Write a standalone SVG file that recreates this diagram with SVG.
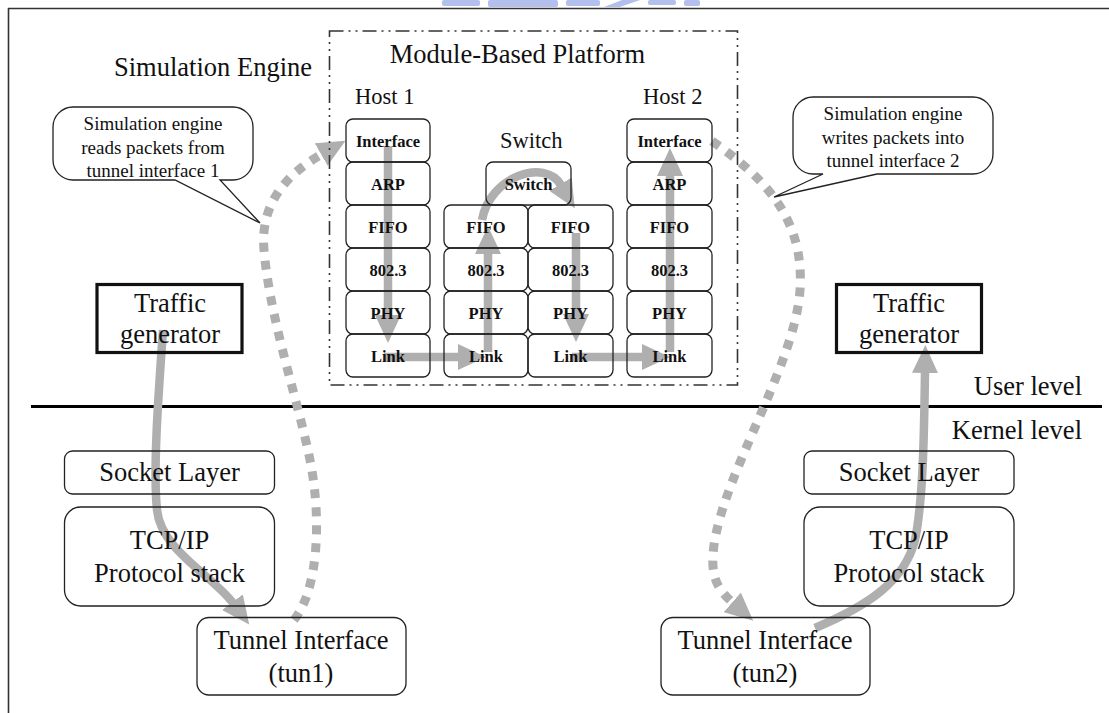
<svg xmlns="http://www.w3.org/2000/svg" width="1109" height="713" viewBox="0 0 1109 713">
  <style>
    text { font-family: "Liberation Serif", "Times New Roman", serif; fill: #111; }
    .big { font-size: 26.5px; text-anchor: middle; }
    .mid { font-size: 22.5px; }
    .note { font-size: 19px; text-anchor: middle; }
    .mod { font-size: 16.5px; font-weight: bold; text-anchor: middle; }
    .box { fill: none; stroke: #222; stroke-width: 1.3; }
    .thick { fill: none; stroke: #111; stroke-width: 3.2; }
    .bubble { fill: #fff; stroke: #222; stroke-width: 1.3; stroke-linejoin: miter; }
    .flow { fill: none; stroke: #afafaf; stroke-width: 8.5; marker-end: url(#head); }
    .dots { fill: none; stroke: #afafaf; stroke-width: 9; stroke-dasharray: 9 9; marker-end: url(#head); }
    .platform { fill: none; stroke: #333; stroke-width: 1.6; stroke-dasharray: 14 5 2 5 2 5; }
  </style>
  <defs>
    <marker id="head" markerUnits="userSpaceOnUse" viewBox="0 0 30 26" markerWidth="30" markerHeight="26" refX="1" refY="13" orient="auto">
      <path d="M0,0 L28,13 L0,26 Z" fill="#afafaf"/>
    </marker>
  </defs>

  <rect x="0" y="0" width="1109" height="713" fill="#fff"/>

  <!-- faint logo strip at the top edge -->
  <g id="logo-strip" fill="#b3bfec">
    <rect x="442" y="0" width="38" height="6" rx="2"/>
    <rect x="488" y="0" width="70" height="7" rx="2"/>
    <rect x="566" y="0" width="34" height="6" rx="2"/>
    <path d="M604 7 L622 0 L640 0 L620 7 Z"/>
    <rect x="648" y="0" width="28" height="5" rx="2"/>
    <rect x="684" y="0" width="16" height="6" rx="2"/>
  </g>

  <!-- outer frame -->
  <g id="frame" stroke="#333" stroke-width="1.6">
    <line x1="8" y1="8.5" x2="1109" y2="8.5"/>
    <line x1="8.5" y1="8" x2="8.5" y2="713"/>
  </g>

  <!-- user / kernel boundary -->
  <line id="level-divider" x1="31" y1="406.5" x2="1102" y2="406.5" stroke="#000" stroke-width="3"/>

  <!-- connectors -->
  <g id="connectors">
    <!-- packet path through the module stacks -->
    <path class="flow" d="M388 146 L388 316"/>
    <path class="flow" d="M384 357 L459 357"/>
    <path class="flow" d="M488 352 L488 253"/>
    <path class="flow" d="M482 220 C490 176, 545 158, 561 185"/>
    <path class="flow" d="M576 233 L576 315"/>
    <path class="flow" d="M572 357 L643 357"/>
    <path class="flow" d="M670 352 L670 175"/>
    <!-- traffic generator 1 down to tun1 -->
    <path class="flow" d="M163 330 C158 400, 153 470, 157 510 C161 550, 212 575, 233 603"/>
    <!-- tun2 up to traffic generator 2 -->
    <path class="flow" d="M815 628 C870 605, 905 580, 915 540 C923 500, 924 440, 925 372"/>
    <!-- tun1 read by the simulation engine -->
    <path class="dots" d="M294 620 C318 590, 322 520, 310 460 S270 320, 264 250 C260 205, 285 175, 322 154"/>
    <!-- simulation engine writes into tun2 -->
    <path class="dots" d="M712 141 C760 175, 805 215, 800 290 S725 470, 714 545 C710 575, 716 588, 733 603"/>
  </g>

  <!-- platform boundary -->
  <g id="platform">
    <rect class="platform" x="329.5" y="31" width="408" height="354"/>
    <text class="big" x="517.5" y="63">Module-Based Platform</text>
  </g>

  <text id="sim-engine-label" class="big" x="213" y="76">Simulation Engine</text>
  <text id="host1-label" class="mid" x="355" y="104">Host 1</text>
  <text id="host2-label" class="mid" x="643" y="104">Host 2</text>
  <text id="switch-label" class="mid" x="500" y="148">Switch</text>

  <!-- Host 1 stack -->
  <g id="host1-interface"><rect class="box" x="346" y="119" width="84" height="43" rx="7"/><text class="mod" x="388" y="146.5">Interface</text></g>
  <g id="host1-arp"><rect class="box" x="346" y="162" width="84" height="43" rx="7"/><text class="mod" x="388" y="189.5">ARP</text></g>
  <g id="host1-fifo"><rect class="box" x="346" y="205" width="84" height="43" rx="7"/><text class="mod" x="388" y="232.5">FIFO</text></g>
  <g id="host1-mac"><rect class="box" x="346" y="248" width="84" height="43" rx="7"/><text class="mod" x="388" y="275.5">802.3</text></g>
  <g id="host1-phy"><rect class="box" x="346" y="291" width="84" height="43" rx="7"/><text class="mod" x="388" y="318.5">PHY</text></g>
  <g id="host1-link"><rect class="box" x="346" y="334" width="84" height="43" rx="7"/><text class="mod" x="388" y="361.5">Link</text></g>

  <!-- Switch -->
  <g id="switch-core"><rect class="box" x="486" y="162" width="85" height="43" rx="7"/><text class="mod" x="528.5" y="189.5">Switch</text></g>
  <g id="switch-a-fifo"><rect class="box" x="444" y="205" width="84" height="43" rx="7"/><text class="mod" x="486" y="232.5">FIFO</text></g>
  <g id="switch-a-mac"><rect class="box" x="444" y="248" width="84" height="43" rx="7"/><text class="mod" x="486" y="275.5">802.3</text></g>
  <g id="switch-a-phy"><rect class="box" x="444" y="291" width="84" height="43" rx="7"/><text class="mod" x="486" y="318.5">PHY</text></g>
  <g id="switch-a-link"><rect class="box" x="444" y="334" width="84" height="43" rx="7"/><text class="mod" x="486" y="361.5">Link</text></g>
  <g id="switch-b-fifo"><rect class="box" x="528" y="205" width="85" height="43" rx="7"/><text class="mod" x="570.5" y="232.5">FIFO</text></g>
  <g id="switch-b-mac"><rect class="box" x="528" y="248" width="85" height="43" rx="7"/><text class="mod" x="570.5" y="275.5">802.3</text></g>
  <g id="switch-b-phy"><rect class="box" x="528" y="291" width="85" height="43" rx="7"/><text class="mod" x="570.5" y="318.5">PHY</text></g>
  <g id="switch-b-link"><rect class="box" x="528" y="334" width="85" height="43" rx="7"/><text class="mod" x="570.5" y="361.5">Link</text></g>

  <!-- Host 2 stack -->
  <g id="host2-interface"><rect class="box" x="627" y="119" width="85" height="43" rx="7"/><text class="mod" x="669.5" y="146.5">Interface</text></g>
  <g id="host2-arp"><rect class="box" x="627" y="162" width="85" height="43" rx="7"/><text class="mod" x="669.5" y="189.5">ARP</text></g>
  <g id="host2-fifo"><rect class="box" x="627" y="205" width="85" height="43" rx="7"/><text class="mod" x="669.5" y="232.5">FIFO</text></g>
  <g id="host2-mac"><rect class="box" x="627" y="248" width="85" height="43" rx="7"/><text class="mod" x="669.5" y="275.5">802.3</text></g>
  <g id="host2-phy"><rect class="box" x="627" y="291" width="85" height="43" rx="7"/><text class="mod" x="669.5" y="318.5">PHY</text></g>
  <g id="host2-link"><rect class="box" x="627" y="334" width="85" height="43" rx="7"/><text class="mod" x="669.5" y="361.5">Link</text></g>

  <!-- callouts -->
  <g id="note-read">
    <path class="bubble" d="M73 107 H233 A20 20 0 0 1 253 127 V160 A20 20 0 0 1 233 180 H220 L260 223 L175 180 H73 A20 20 0 0 1 53 160 V127 A20 20 0 0 1 73 107 Z"/>
    <text class="note" x="153" y="130">Simulation engine</text>
    <text class="note" x="153" y="154">reads packets from</text>
    <text class="note" x="153" y="177">tunnel interface 1</text>
  </g>
  <g id="note-write">
    <path class="bubble" d="M813 97 H973 A20 20 0 0 1 993 117 V154 A20 20 0 0 1 973 174 H877 L774 197 L823 174 H813 A20 20 0 0 1 793 154 V117 A20 20 0 0 1 813 97 Z"/>
    <text class="note" x="893" y="120">Simulation engine</text>
    <text class="note" x="893" y="144">writes packets into</text>
    <text class="note" x="893" y="167">tunnel interface 2</text>
  </g>

  <!-- traffic generators -->
  <g id="traffic-gen-1">
    <rect class="thick" x="97" y="284.5" width="145" height="68"/>
    <text class="big" x="170" y="312">Traffic</text>
    <text class="big" x="170" y="343">generator</text>
  </g>
  <g id="traffic-gen-2">
    <rect class="thick" x="836.5" y="284.5" width="145" height="68"/>
    <text class="big" x="909" y="312">Traffic</text>
    <text class="big" x="909" y="343">generator</text>
  </g>

  <text id="user-level" class="big" style="text-anchor:end" x="1082" y="395">User level</text>
  <text id="kernel-level" class="big" style="text-anchor:end" x="1082" y="439">Kernel level</text>

  <!-- kernel side, left -->
  <g id="socket-1"><rect class="box" x="64.5" y="451" width="210" height="43" rx="8"/><text class="big" x="169.5" y="481">Socket Layer</text></g>
  <g id="tcpip-1"><rect class="box" x="64.5" y="507" width="210" height="99" rx="16"/><text class="big" x="169.5" y="549">TCP/IP</text><text class="big" x="169.5" y="582">Protocol stack</text></g>
  <g id="tun1"><rect class="box" x="197" y="617.5" width="209" height="77.5" rx="12"/><text class="big" x="301" y="649">Tunnel Interface</text><text class="big" x="301" y="682">(tun1)</text></g>

  <!-- kernel side, right -->
  <g id="socket-2"><rect class="box" x="804" y="451" width="210" height="43" rx="8"/><text class="big" x="909" y="481">Socket Layer</text></g>
  <g id="tcpip-2"><rect class="box" x="804" y="507" width="210" height="99" rx="16"/><text class="big" x="909" y="549">TCP/IP</text><text class="big" x="909" y="582">Protocol stack</text></g>
  <g id="tun2"><rect class="box" x="661" y="617.5" width="209" height="77.5" rx="12"/><text class="big" x="765" y="649">Tunnel Interface</text><text class="big" x="765" y="682">(tun2)</text></g>
</svg>
